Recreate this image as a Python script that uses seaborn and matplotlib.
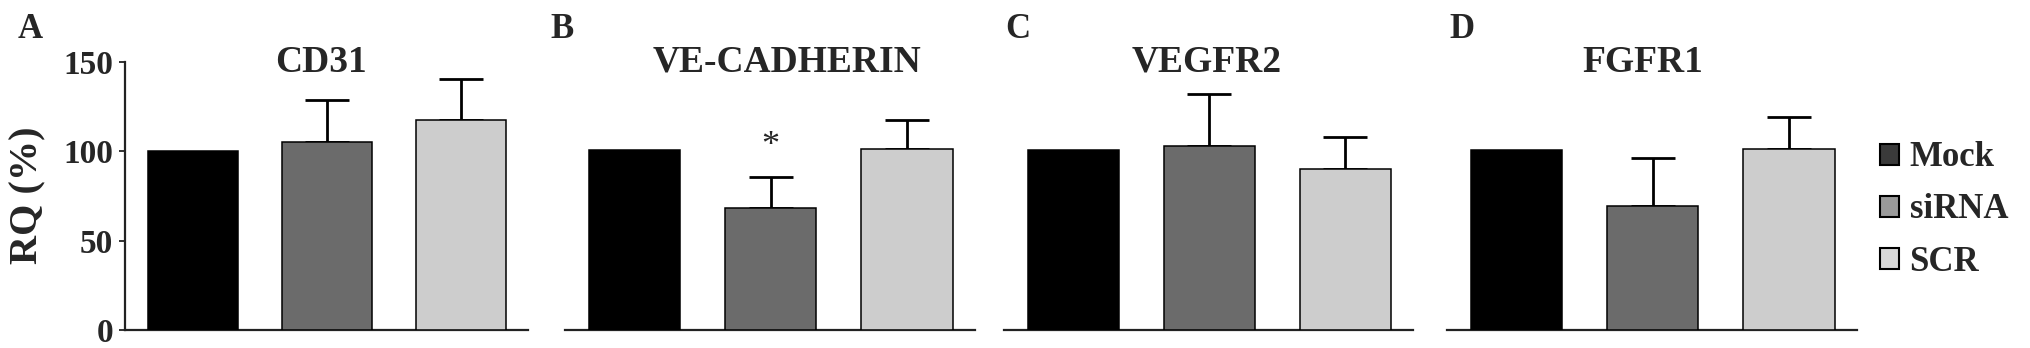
import matplotlib
matplotlib.use("Agg")
import matplotlib.pyplot as plt
from matplotlib.patches import Patch
import pandas as pd
import seaborn as sns

# values (RQ %, mean and upper error)
genes = ['CD31', 'VE-CADHERIN', 'VEGFR2', 'FGFR1']
letters = ['A', 'B', 'C', 'D']
groups = ['Mock', 'siRNA', 'SCR']
mock = [100, 101, 101, 101]
sirna = [105, 68.5, 103, 69.5]
scr = [117.5, 101.5, 90, 101.5]
mock_err = [0, 0, 0, 0]
sirna_err = [24, 17, 29, 27]
scr_err = [23, 16, 18, 17.5]
yticks = [0, 50, 100, 150]

bar_colors = {'Mock': '#000000', 'siRNA': '#6b6b6b', 'SCR': '#cdcdcd'}
legend_colors = {'Mock': '#3a3a3a', 'siRNA': '#9a9a9a', 'SCR': '#d8d8d8'}

rows = []
for i, g in enumerate(genes):
    for grp, vals, errs in [('Mock', mock, mock_err), ('siRNA', sirna, sirna_err), ('SCR', scr, scr_err)]:
        rows.append({'gene': g, 'group': grp, 'value': vals[i], 'err': errs[i]})
df = pd.DataFrame(rows)

sns.set_style('white')
plt.rcParams['font.family'] = ['Liberation Serif', 'DejaVu Serif']
plt.rcParams['font.weight'] = 'bold'

W, H = 2031, 348
fig = plt.figure(figsize=(W / 100, H / 100), dpi=100)

# axes placement in pixels (left, right)
ax_px = [(125, 528), (565, 975), (1004, 1413), (1447, 1857)]
y0_px, y150_px = 330, 62

for i, g in enumerate(genes):
    l, r = ax_px[i]
    ax = fig.add_axes([l / W, 1 - y0_px / H, (r - l) / W, (y0_px - y150_px) / H])
    sub = df[df['gene'] == g]
    sns.barplot(data=sub, x='group', y='value', hue='group', order=groups,
                hue_order=groups, palette=bar_colors, width=0.67,
                edgecolor='black', linewidth=1.1, errorbar=None,
                legend=False, ax=ax, zorder=3)
    # upward error bars
    for p, (_, row) in zip(ax.patches, sub.iterrows()):
        if row['err'] > 0:
            xc = p.get_x() + p.get_width() / 2
            ax.errorbar(xc, row['value'], yerr=[[0], [row['err']]], fmt='none',
                        ecolor='black', elinewidth=2.0, capsize=16, capthick=2.0,
                        zorder=2)
    ax.set_xlim(-0.51, 2.5)
    ax.set_ylim(0, 150)
    ax.set_xlabel('')
    ax.set_ylabel('')
    ax.set_xticks([])
    for s in ['top', 'right']:
        ax.spines[s].set_visible(False)
    ax.spines['bottom'].set_linewidth(1.6)
    ax.spines['bottom'].set_color('#222222')
    if i == 0:
        ax.set_yticks(yticks)
        ax.tick_params(axis='y', length=4.5, width=1.3, pad=4, labelsize=24,
                       left=True, color='#222222')
        ax.spines['left'].set_linewidth(1.6)
        ax.spines['left'].set_color('#222222')
        for t in ax.get_yticklabels():
            t.set_fontweight('bold')
    else:
        ax.spines['left'].set_visible(False)
        ax.set_yticks([])
    if g == 'VE-CADHERIN':
        p = ax.patches[1]
        ax.text(p.get_x() + p.get_width() / 2, sirna[i] + sirna_err[i] + 8, '*',
                ha='center', va='bottom', fontsize=26, fontweight='normal')

# titles and panel letters
title_x = [321, 787, 1207, 1643]
letter_x = [30, 562, 1018, 1462]
for i, g in enumerate(genes):
    fig.text(title_x[i] / W, 1 - 72 / H, g, ha='center', va='baseline',
             fontsize=27, fontweight='bold')
    fig.text(letter_x[i] / W, 1 - 38 / H, letters[i], ha='center', va='baseline',
             fontsize=25, fontweight='bold')

fig.text(28 / W, 1 - 195 / H, 'RQ (%)', rotation=90, ha='center', va='center',
         fontsize=29, fontweight='bold')

handles = [Patch(facecolor=legend_colors[k], edgecolor='black', linewidth=1.5) for k in groups]
fig.legend(handles, groups, loc='center left', bbox_to_anchor=(1880 / W, 1 - 210 / H),
           frameon=False, handlelength=0.55, handleheight=0.55, handletextpad=0.3,
           borderpad=0, borderaxespad=0, labelspacing=0.55,
           prop={'family': 'Liberation Serif', 'weight': 'bold', 'size': 25})

fig.savefig('out.png', dpi=100)
